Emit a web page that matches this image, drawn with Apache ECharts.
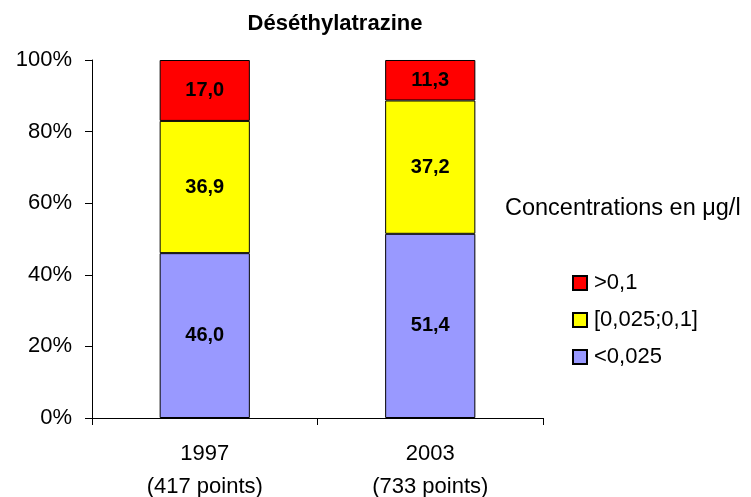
<!DOCTYPE html>
<html><head><meta charset="utf-8">
<script src="https://cdn.jsdelivr.net/npm/echarts@6/dist/echarts.min.js"></script>
<style>html,body{margin:0;padding:0;background:#fff}#c{width:751px;height:497px}</style>
</head><body><div id="c"></div>
<script>
var categories = ['1997\n(417 points)', '2003\n(733 points)'];
var seriesNames = ['<0,025', '[0,025;0,1]', '>0,1'];
var low = [46.0, 51.4];
var mid = [36.9, 37.2];
var high = [17.0, 11.3];
var colors = ['#9999FF', '#FFFF00', '#FF0000'];
var yTicks = ['0%', '20%', '40%', '60%', '80%', '100%'];

var raw = [low, mid, high];
var totals = categories.map(function(_, i){ return low[i] + mid[i] + high[i]; });
var font = 'Liberation Sans, Arial, sans-serif';

var series = raw.map(function(arr, k){
  return {
    name: seriesNames[k], type: 'bar', stack: 'all', barWidth: '40%',
    data: arr.map(function(v, i){ return {value: v / totals[i] * 100, raw: v}; }),
    itemStyle: {color: colors[k], borderColor: '#000', borderWidth: 1},
    label: {show: true, position: 'inside', color: '#000', fontWeight: 'bold',
      fontSize: 20, fontFamily: font,
      formatter: function(p){ return p.data.raw.toFixed(1).replace('.', ','); }}
  };
});

var chart = echarts.init(document.getElementById('c'));
chart.setOption({
  animation: false,
  title: [
    {text: 'Déséthylatrazine', left: 335, top: 13, textAlign: 'center', padding: 0,
     textStyle: {fontSize: 22, fontWeight: 'bold', color: '#000', fontFamily: font}},
    {text: 'Concentrations en μg/l', left: 505, top: 197, padding: 0,
     textStyle: {fontSize: 23.5, fontWeight: 'normal', color: '#000', fontFamily: font}}
  ],
  grid: {left: 92, right: 208, top: 60, bottom: 79, containLabel: false, outerBoundsMode: 'none'},
  legend: {orient: 'vertical', left: 572, top: 272, padding: 0, itemWidth: 14, itemHeight: 14, itemGap: 15,
    icon: 'rect',
    data: ['>0,1', '[0,025;0,1]', '<0,025'],
    textStyle: {fontSize: 22, lineHeight: 22, color: '#000', fontFamily: font, padding: [0,0,0,2]}},
  xAxis: {type: 'category', data: categories,
    axisLine: {lineStyle: {color: '#000'}},
    axisTick: {show: true, length: 7, lineStyle: {color: '#000'}},
    axisLabel: {fontSize: 22, color: '#000', fontFamily: font, lineHeight: 33, margin: 19}},
  yAxis: {type: 'value', min: 0, max: 100, interval: 20,
    axisLine: {show: true, lineStyle: {color: '#000'}},
    axisTick: {show: true, length: 7, lineStyle: {color: '#000'}},
    splitLine: {show: false},
    axisLabel: {fontSize: 22, color: '#000', fontFamily: font, margin: 20,
      formatter: function(v){ return yTicks[Math.round(v / 20)]; }}},
  series: series
});
</script></body></html>
